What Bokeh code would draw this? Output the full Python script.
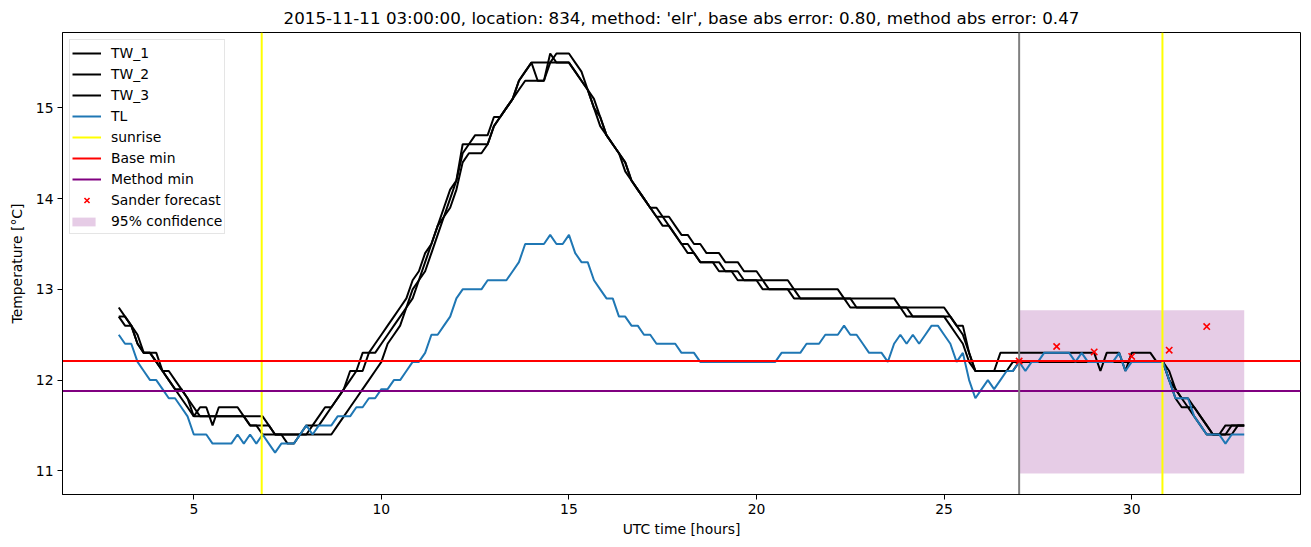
from bokeh.plotting import figure
from bokeh.models import Legend, LegendItem, Range1d, FixedTicker
from bokeh.embed import file_html
from bokeh.resources import INLINE

# ---------------- data ----------------
start_hour = 3.0
step_hours = 1.0 / 6.0  # 10-minute sampling

TW_1 = [12.8, 12.7, 12.6, 12.4, 12.3, 12.3, 12.2, 12.1, 12.0, 11.9, 11.8, 11.7,
        11.6, 11.7, 11.7, 11.5, 11.7, 11.7, 11.7, 11.7, 11.6, 11.6, 11.6, 11.6,
        11.5, 11.4, 11.4, 11.4, 11.4, 11.4, 11.5, 11.5, 11.6, 11.7, 11.7, 11.8,
        11.9, 12.1, 12.1, 12.3, 12.3, 12.4, 12.5, 12.6, 12.7, 12.8, 12.9, 13.1,
        13.2, 13.4, 13.5, 13.7, 13.9, 14.1, 14.2, 14.6, 14.6, 14.7, 14.7, 14.7,
        14.9, 14.9, 15.0, 15.1, 15.3, 15.4, 15.5, 15.3, 15.3, 15.6, 15.5, 15.5,
        15.5, 15.4, 15.3, 15.2, 15.0, 14.9, 14.7, 14.6, 14.5, 14.4, 14.2, 14.1,
        14.0, 13.9, 13.9, 13.8, 13.8, 13.7, 13.6, 13.6, 13.5, 13.5, 13.4, 13.4,
        13.4, 13.3, 13.3, 13.3, 13.2, 13.2, 13.2, 13.1, 13.1, 13.1, 13.1, 13.1,
        13.0, 13.0, 13.0, 13.0, 13.0, 13.0, 13.0, 13.0, 12.9, 12.9, 12.9, 12.9,
        12.9, 12.9, 12.9, 12.9, 12.9, 12.8, 12.8, 12.8, 12.8, 12.8, 12.8, 12.8,
        12.8, 12.7, 12.6, 12.6, 12.3, 12.1, 12.1, 12.1, 12.1, 12.3, 12.3, 12.3,
        12.3, 12.3, 12.3, 12.3, 12.3, 12.3, 12.3, 12.3, 12.3, 12.3, 12.3, 12.3,
        12.3, 12.1, 12.3, 12.3, 12.3, 12.1, 12.3, 12.3, 12.3, 12.3, 12.2, 12.2,
        12.0, 11.8, 11.7, 11.7, 11.6, 11.5, 11.4, 11.4, 11.4, 11.4, 11.5, 11.5, 11.5]

TW_2 = [12.7, 12.7, 12.6, 12.5, 12.3, 12.3, 12.3, 12.1, 12.1, 12.0, 11.9, 11.8,
        11.7, 11.6, 11.6, 11.6, 11.6, 11.6, 11.6, 11.6, 11.6, 11.5, 11.5, 11.5,
        11.5, 11.4, 11.4, 11.4, 11.4, 11.4, 11.4, 11.5, 11.5, 11.6, 11.7, 11.8,
        11.9, 12.0, 12.1, 12.1, 12.3, 12.3, 12.4, 12.5, 12.6, 12.7, 12.8, 13.0,
        13.1, 13.3, 13.5, 13.7, 13.8, 14.0, 14.2, 14.5, 14.6, 14.6, 14.6, 14.6,
        14.8, 14.9, 15.0, 15.1, 15.2, 15.3, 15.3, 15.3, 15.3, 15.5, 15.5, 15.5,
        15.5, 15.4, 15.3, 15.2, 15.0, 14.8, 14.7, 14.6, 14.5, 14.3, 14.2, 14.1,
        14.0, 13.9, 13.8, 13.7, 13.7, 13.6, 13.5, 13.4, 13.4, 13.3, 13.3, 13.3,
        13.2, 13.2, 13.2, 13.1, 13.1, 13.1, 13.1, 13.0, 13.0, 13.0, 13.0, 13.0,
        12.9, 12.9, 12.9, 12.9, 12.9, 12.9, 12.9, 12.9, 12.9, 12.8, 12.8, 12.8,
        12.8, 12.8, 12.8, 12.8, 12.8, 12.8, 12.7, 12.7, 12.7, 12.7, 12.7, 12.7,
        12.7, 12.6, 12.5, 12.4, 12.2, 12.1, 12.1, 12.1, 12.1, 12.1, 12.1, 12.2,
        12.2, 12.2, 12.2, 12.2, 12.2, 12.2, 12.2, 12.2, 12.2, 12.2, 12.2, 12.2,
        12.2, 12.2, 12.2, 12.2, 12.2, 12.2, 12.2, 12.2, 12.2, 12.2, 12.2, 12.2,
        12.0, 11.9, 11.8, 11.7, 11.7, 11.6, 11.5, 11.4, 11.4, 11.4, 11.4, 11.5, 11.5]

TW_3 = [12.7, 12.6, 12.6, 12.4, 12.3, 12.3, 12.2, 12.1, 12.0, 11.9, 11.9, 11.8,
        11.6, 11.6, 11.6, 11.6, 11.6, 11.6, 11.6, 11.6, 11.6, 11.5, 11.5, 11.4,
        11.4, 11.4, 11.4, 11.3, 11.3, 11.4, 11.4, 11.4, 11.4, 11.4, 11.4, 11.5,
        11.6, 11.7, 11.8, 11.9, 12.0, 12.1, 12.2, 12.4, 12.5, 12.6, 12.8, 12.9,
        13.1, 13.2, 13.4, 13.6, 13.8, 13.9, 14.1, 14.4, 14.5, 14.5, 14.5, 14.6,
        14.8, 14.9, 15.0, 15.1, 15.3, 15.4, 15.5, 15.5, 15.5, 15.5, 15.6, 15.6,
        15.6, 15.5, 15.4, 15.2, 15.1, 14.9, 14.7, 14.6, 14.5, 14.4, 14.2, 14.1,
        14.0, 13.9, 13.8, 13.8, 13.7, 13.6, 13.5, 13.5, 13.4, 13.3, 13.3, 13.3,
        13.3, 13.2, 13.2, 13.2, 13.1, 13.1, 13.1, 13.1, 13.0, 13.0, 13.0, 13.0,
        13.0, 12.9, 12.9, 12.9, 12.9, 12.9, 12.9, 12.9, 12.9, 12.9, 12.8, 12.8,
        12.8, 12.8, 12.8, 12.8, 12.8, 12.8, 12.8, 12.7, 12.7, 12.7, 12.7, 12.7,
        12.7, 12.7, 12.6, 12.5, 12.3, 12.1, 12.1, 12.1, 12.1, 12.1, 12.1, 12.1,
        12.2, 12.2, 12.2, 12.2, 12.2, 12.2, 12.2, 12.2, 12.2, 12.2, 12.2, 12.2,
        12.2, 12.2, 12.2, 12.2, 12.2, 12.2, 12.2, 12.2, 12.2, 12.2, 12.2, 12.2,
        12.1, 11.9, 11.8, 11.8, 11.7, 11.6, 11.5, 11.4, 11.4, 11.5, 11.5, 11.5, 11.5]

TL = [12.5, 12.4, 12.4, 12.2, 12.1, 12.0, 12.0, 11.9, 11.8, 11.8, 11.7, 11.6,
      11.4, 11.4, 11.4, 11.3, 11.3, 11.3, 11.3, 11.4, 11.3, 11.4, 11.3, 11.4,
      11.3, 11.2, 11.3, 11.3, 11.3, 11.4, 11.5, 11.4, 11.5, 11.5, 11.5, 11.6,
      11.6, 11.6, 11.7, 11.7, 11.8, 11.8, 11.9, 11.9, 12.0, 12.0, 12.1, 12.2,
      12.2, 12.3, 12.5, 12.5, 12.6, 12.7, 12.9, 13.0, 13.0, 13.0, 13.0, 13.1,
      13.1, 13.1, 13.1, 13.2, 13.3, 13.5, 13.5, 13.5, 13.5, 13.6, 13.5, 13.5,
      13.6, 13.4, 13.3, 13.3, 13.1, 13.0, 12.9, 12.9, 12.7, 12.7, 12.6, 12.6,
      12.5, 12.5, 12.4, 12.4, 12.4, 12.4, 12.3, 12.3, 12.3, 12.2, 12.2, 12.2,
      12.2, 12.2, 12.2, 12.2, 12.2, 12.2, 12.2, 12.2, 12.2, 12.2, 12.3, 12.3,
      12.3, 12.3, 12.4, 12.4, 12.4, 12.5, 12.5, 12.5, 12.6, 12.5, 12.5, 12.4,
      12.3, 12.3, 12.3, 12.2, 12.4, 12.5, 12.4, 12.5, 12.4, 12.5, 12.6, 12.6,
      12.5, 12.4, 12.2, 12.3, 12.0, 11.8, 11.9, 12.0, 11.9, 12.0, 12.1, 12.1,
      12.2, 12.1, 12.2, 12.2, 12.3, 12.3, 12.3, 12.3, 12.3, 12.2, 12.3, 12.2,
      12.2, 12.2, 12.2, 12.2, 12.3, 12.1, 12.2, 12.2, 12.2, 12.2, 12.2, 12.2,
      12.0, 11.8, 11.8, 11.8, 11.6, 11.5, 11.4, 11.4, 11.4, 11.3, 11.4, 11.4, 11.4]

hours = [start_hour + i * step_hours for i in range(len(TL))]

sunrise_hours = [6.81, 30.82]
forecast_start_hour = [27.0]
base_min = [12.21]
method_min = [11.88]

forecast_hours = [27, 28, 29, 30, 31, 32]
sander_forecast = [12.21, 12.37, 12.31, 12.26, 12.33, 12.59]

conf_hours = [27, 33]
conf_lower = [10.97, 10.97]
conf_upper = [12.77, 12.77]

x_ticks = [5, 10, 15, 20, 25, 30]
y_ticks = [11, 12, 13, 14, 15]

title_text = ("2015-11-11 03:00:00, location: 834, method: 'elr', "
              "base abs error: 0.80, method abs error: 0.47")

# ---------------- figure ----------------
FONT = "DejaVu Sans"
FS = "13.9px"
W, H = 1311, 547
B_LEFT, B_RIGHT, B_TOP, B_BOTTOM = 62, 11, 32, 53

x_lo, x_hi = min(hours), max(hours)
x_pad = 0.05 * (x_hi - x_lo)
all_y = TW_1 + TW_2 + TW_3 + TL + conf_lower + conf_upper + sander_forecast
y_lo, y_hi = min(all_y), max(all_y)
y_pad = 0.05 * (y_hi - y_lo)
X0, X1 = x_lo - x_pad, x_hi + x_pad
Y0, Y1 = y_lo - y_pad, y_hi + y_pad

p = figure(width=W, height=H, output_backend="svg", toolbar_location=None,
           x_range=Range1d(X0, X1), y_range=Range1d(Y0, Y1),
           min_border_left=B_LEFT, min_border_right=B_RIGHT,
           min_border_top=B_TOP, min_border_bottom=B_BOTTOM)

p.title.text = title_text
p.title.text_font = FONT
p.title.text_font_size = "16.7px"
p.title.text_font_style = "normal"
p.title.align = "center"
p.title.text_color = "black"

p.xgrid.visible = False
p.ygrid.visible = False
p.outline_line_color = "black"
p.outline_line_width = 1
p.background_fill_color = "white"
p.border_fill_color = "white"

for ax in (p.xaxis[0], p.yaxis[0]):
    ax.axis_line_color = "black"
    ax.major_tick_line_color = "black"
    ax.major_tick_out = 5
    ax.major_tick_in = 0
    ax.minor_tick_line_color = None
    ax.major_label_text_font = FONT
    ax.major_label_text_font_size = FS
    ax.major_label_text_color = "black"
    ax.axis_label_text_font = FONT
    ax.axis_label_text_font_size = FS
    ax.axis_label_text_font_style = "normal"
    ax.axis_label_text_color = "black"
    ax.major_label_standoff = 4

p.xaxis.ticker = FixedTicker(ticks=x_ticks)
p.yaxis.ticker = FixedTicker(ticks=y_ticks)
p.xaxis.axis_label = "UTC time [hours]"
p.yaxis.axis_label = "Temperature [°C]"
p.xaxis.axis_label_standoff = 4
p.yaxis.axis_label_standoff = 8

LW = 2.0

# confidence band (drawn first, underneath)
r_conf = p.varea(x=conf_hours, y1=conf_lower, y2=conf_upper,
                 fill_color="purple", fill_alpha=0.2)
# invisible twin, used only to reserve the legend row
r_conf_row = p.varea(x=conf_hours, y1=conf_lower, y2=conf_upper,
                     fill_color="purple", fill_alpha=0.0)

r_tw1 = p.line(hours, TW_1, line_color="black", line_width=LW)
r_tw2 = p.line(hours, TW_2, line_color="black", line_width=LW)
r_tw3 = p.line(hours, TW_3, line_color="black", line_width=LW)
r_tl = p.line(hours, TL, line_color="#1f77b4", line_width=LW)

r_sun = p.segment(x0=sunrise_hours, y0=[Y0] * len(sunrise_hours),
                  x1=sunrise_hours, y1=[Y1] * len(sunrise_hours),
                  line_color="yellow", line_width=LW)
r_base = p.segment(x0=[X0], y0=base_min, x1=[X1], y1=base_min,
                   line_color="red", line_width=LW)
r_meth = p.segment(x0=[X0], y0=method_min, x1=[X1], y1=method_min,
                   line_color="purple", line_width=LW)
r_fc = p.segment(x0=forecast_start_hour, y0=[Y0], x1=forecast_start_hour, y1=[Y1],
                 line_color="gray", line_width=LW)

r_sander = p.scatter(forecast_hours, sander_forecast, marker="x", size=9,
                     line_color="red", line_width=1.6)

ROW = 21
PAD = 2
MARGIN = 7

def style_legend(lg, glyph_h):
    lg.padding = PAD
    lg.spacing = 0
    lg.glyph_width = 29
    lg.glyph_height = glyph_h
    lg.label_height = ROW
    lg.label_standoff = 10
    lg.label_text_font = FONT
    lg.label_text_font_size = FS
    lg.label_text_color = "black"
    lg.label_text_baseline = "middle"

legend = Legend(items=[
    LegendItem(label="TW_1", renderers=[r_tw1]),
    LegendItem(label="TW_2", renderers=[r_tw2]),
    LegendItem(label="TW_3", renderers=[r_tw3]),
    LegendItem(label="TL", renderers=[r_tl]),
    LegendItem(label="sunrise", renderers=[r_sun]),
    LegendItem(label="Base min", renderers=[r_base]),
    LegendItem(label="Method min", renderers=[r_meth]),
    LegendItem(label="Sander forecast", renderers=[r_sander]),
    LegendItem(label="95% confidence", renderers=[r_conf_row]),
], location="top_left")
style_legend(legend, 18)
legend.margin = MARGIN
legend.border_line_color = "#cccccc"
legend.border_line_width = 1
legend.background_fill_alpha = 0.8
p.add_layout(legend)

# overlay legend that draws only the short patch for the last row
frame_h = H - B_TOP - B_BOTTOM
n_rows = 9
patch_legend = Legend(items=[LegendItem(label=" ", renderers=[r_conf])])
style_legend(patch_legend, 11)
patch_legend.margin = 0
patch_legend.border_line_color = None
patch_legend.background_fill_alpha = 0.0
patch_legend.location = (MARGIN, frame_h - MARGIN - PAD - (n_rows - 1) * ROW - ROW - 2 * PAD + PAD)
p.add_layout(patch_legend)

open("out.html", "w").write(file_html(p, INLINE))
